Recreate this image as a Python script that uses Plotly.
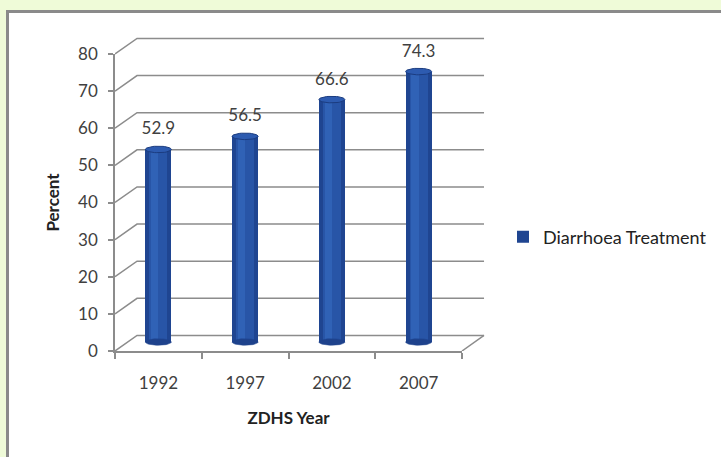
import numpy as np
import plotly.graph_objects as go

# Survey data
years = [1992, 1997, 2002, 2007]
treatment = [52.9, 56.5, 66.6, 74.3]
y_ticks = [0, 10, 20, 30, 40, 50, 60, 70, 80]
series_name = "Diarrhoea Treatment"

FONT = "Lato"
TXT = "#404040"
GRID = "#8c8c8c"

W, H = 721, 457

# front plane (pixels) and scales
fx0, fx1 = 115, 462          # front axis left / right
fy0, fy1 = 351, 54           # value 0 / value 80
x_lo, x_hi = years[0] - 2.5, years[-1] + 2.5
px_per_year = (fx1 - fx0) / (x_hi - x_lo)
px_per_unit = (fy0 - fy1) / 80

# depth offset of the back wall (x in years, y in percent)
dx, dy = 1.27, 4.2

# larger panel that holds the wall and the cylinders
wx1, wy1 = 505, 20
wall_x_range = [x_lo, x_lo + (wx1 - fx0) / px_per_year]
wall_y_range = [0, (fy0 - wy1) / px_per_unit]

# cylinders sit half-way back, on a slightly compressed scale
bar_base_px = 342
bar_scale = 3.64
bar_y_lo = -(fy0 - bar_base_px) / bar_scale
bar_y_range = [bar_y_lo, bar_y_lo + (fy0 - wy1) / bar_scale]

def fx(p):
    return p / W

def fy(p):
    return (H - p) / H

fig = go.Figure()

# front axes carry the ticks, labels and titles
fig.add_trace(go.Scatter(x=years, y=treatment, mode="markers", marker=dict(opacity=0),
                         hoverinfo="skip", showlegend=False))

# back-wall gridlines plus the diagonal edges joining the front axis
gx, gy = [], []
for v in y_ticks:
    gx += [x_lo, x_lo + dx, x_hi + dx, None]
    gy += [v, v + dy, v + dy, None]
gx += [x_hi, x_hi + dx, None]
gy += [0, dy, None]
fig.add_trace(go.Scatter(x=gx, y=gy, xaxis="x2", yaxis="y2", mode="lines",
                         line=dict(color=GRID, width=1.5),
                         hoverinfo="skip", showlegend=False))

# cylinder geometry
half_w = 0.75
ry = 0.9
t = np.linspace(0, 2 * np.pi, 48)

# rounded bottoms
for x, v in zip(years, treatment):
    fig.add_trace(go.Scatter(x=x + half_w * np.cos(t), y=ry * np.sin(t),
                             xaxis="x3", yaxis="y3", mode="lines", fill="toself",
                             fillcolor="#1E428C", line=dict(color="#1E428C", width=0.5),
                             hoverinfo="skip", showlegend=False))

# cylinder bodies, layered for shading
fig.add_trace(go.Bar(x=years, y=treatment, xaxis="x3", yaxis="y3", width=2 * half_w,
                     marker=dict(color="#1F4591", line=dict(width=0)),
                     name=series_name, showlegend=True))
fig.add_trace(go.Bar(x=years, y=treatment, xaxis="x3", yaxis="y3", width=1.05,
                     marker=dict(color="#2855A7", line=dict(width=0)),
                     hoverinfo="skip", showlegend=False))
fig.add_trace(go.Bar(x=years, y=treatment, xaxis="x3", yaxis="y3", width=0.42, offset=-0.42,
                     marker=dict(color="#3062B6", line=dict(width=0)),
                     hoverinfo="skip", showlegend=False))

# elliptical tops
for x, v in zip(years, treatment):
    fig.add_trace(go.Scatter(x=x + half_w * np.cos(t), y=v + ry * np.sin(t),
                             xaxis="x3", yaxis="y3", mode="lines", fill="toself",
                             fillcolor="#2D5BB0", line=dict(color="#1B3C80", width=1),
                             hoverinfo="skip", showlegend=False))

# value labels
fig.add_trace(go.Scatter(x=years, y=[v + 5.3 for v in treatment], xaxis="x3", yaxis="y3",
                         mode="text", text=[f"{v:.1f}" for v in treatment],
                         textfont=dict(family=FONT, size=17, color=TXT),
                         hoverinfo="skip", showlegend=False))

hidden = dict(visible=False, showgrid=False, zeroline=False, fixedrange=True)
wall_xdom = [fx(fx0), fx(wx1)]
wall_ydom = [fy(fy0), fy(wy1)]

fig.update_layout(
    width=W, height=H,
    margin=dict(l=0, r=0, t=0, b=0, autoexpand=False),
    paper_bgcolor="#EFFBD8",
    plot_bgcolor="rgba(0,0,0,0)",
    barmode="overlay",
    bargap=0,
    font=dict(family=FONT, color=TXT),
    xaxis=dict(
        domain=[fx(fx0), fx(fx1)], anchor="y",
        range=[x_lo, x_hi], tickvals=years, ticktext=[str(y) for y in years],
        ticks="", showgrid=False, zeroline=False,
        showline=True, linecolor=GRID, linewidth=1.5,
        tickfont=dict(family=FONT, size=17, color=TXT),
        ticklabelstandoff=16,
        minor=dict(tickvals=[x_lo + 5 * i for i in range(5)], ticks="outside",
                   ticklen=6, tickcolor=GRID, tickwidth=1.5, showgrid=False),
        title=dict(text="<b>ZDHS Year</b>", font=dict(family=FONT, size=17, color="#222222"),
                   standoff=20),
        automargin=False,
    ),
    yaxis=dict(
        domain=[fy(fy0), fy(fy1)], anchor="x",
        range=[0, 80], tickvals=y_ticks, ticks="outside", ticklen=5,
        tickcolor=GRID, tickwidth=1.5, showgrid=False, zeroline=False,
        showline=True, linecolor=GRID, linewidth=1.5,
        tickfont=dict(family=FONT, size=17, color=TXT),
        ticklabelstandoff=7,
        title=dict(text="<b>Percent</b>", font=dict(family=FONT, size=17, color="#222222"),
                   standoff=14),
        automargin=False,
    ),
    xaxis2=dict(domain=wall_xdom, anchor="y2", range=wall_x_range, **hidden),
    yaxis2=dict(domain=wall_ydom, anchor="x2", range=wall_y_range, **hidden),
    xaxis3=dict(domain=wall_xdom, anchor="y3", range=wall_x_range, **hidden),
    yaxis3=dict(domain=wall_ydom, anchor="x3", range=bar_y_range, **hidden),
    legend=dict(x=fx(503), y=fy(237), xanchor="left", yanchor="middle",
                bgcolor="rgba(0,0,0,0)",
                font=dict(family=FONT, size=18, color="#222222")),
    shapes=[dict(type="rect", xref="paper", yref="paper", layer="below",
                 x0=fx(7.5), x1=fx(W + 10), y0=fy(H + 20), y1=fy(11.5),
                 fillcolor="white", line=dict(color="#8a8a8a", width=3))],
)

fig.write_html("out.html")
